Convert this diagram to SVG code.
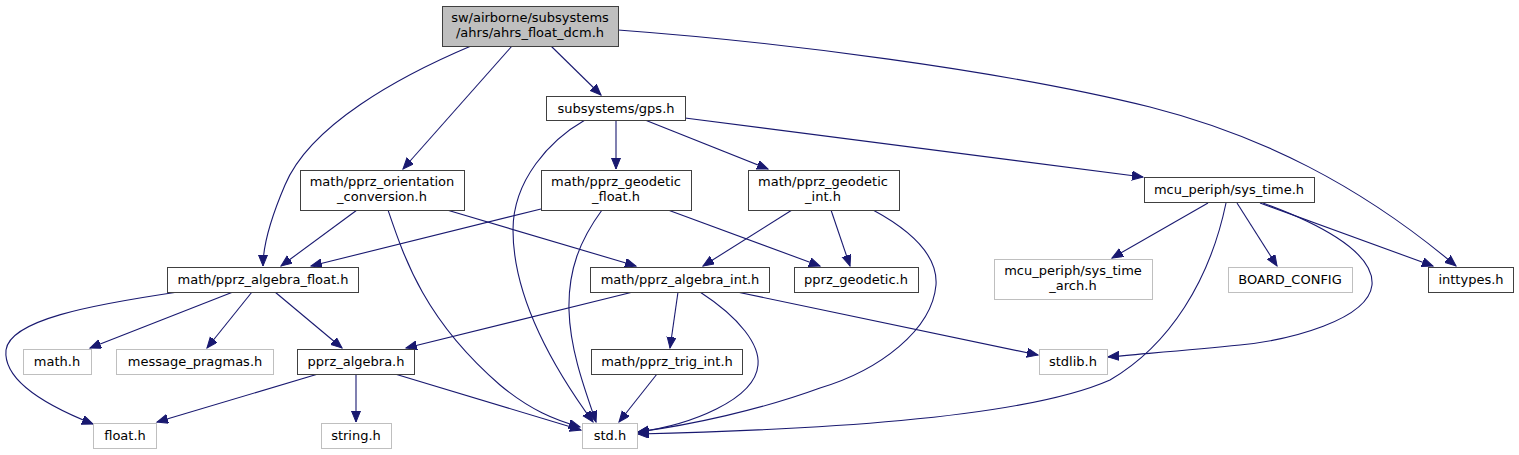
<svg xmlns="http://www.w3.org/2000/svg" width="1519" height="455" viewBox="0 0 1519 455">
<style>
.n rect{fill:#fff;stroke:#404040;stroke-width:1}
.g rect{fill:#fff;stroke:#bfbfbf;stroke-width:1}
.root rect{fill:#bfbfbf;stroke:#404040}
text{font-family:"DejaVu Sans",sans-serif;font-size:13px;text-anchor:middle;fill:#000}
#edges path{fill:none;stroke:#191970;stroke-width:1.1;marker-end:url(#a)}
</style>
<defs>
<marker id="a" markerUnits="userSpaceOnUse" markerWidth="13" markerHeight="10" refX="11" refY="4.5" orient="auto">
<path d="M0,0 L11,4.5 L0,9 z" fill="#191970" stroke="#191970" stroke-width="1"/>
</marker>
</defs>
<rect width="1519" height="455" fill="#fff"/>
<g id="edges">
<path d="M551,46 L601,95"/>
<path d="M471,46 C400,76 310,125 285,185 C270,220 263,245 263,266"/>
<path d="M512,46 L403,169"/>
<path d="M618,30 C780,42 1000,70 1150,107 C1260,135 1360,185 1456,266"/>
<path d="M585,120 C550,140 513,180 513,230 C513,300 555,370 593,422"/>
<path d="M616,120 L616,169"/>
<path d="M645,120 L768,169"/>
<path d="M685,118 L1143,177"/>
<path d="M357,210 L281,266"/>
<path d="M447,210 L636,266"/>
<path d="M388,210 C405,260 425,320 500,385 C530,410 555,420 580,427"/>
<path d="M541,209 L311,266"/>
<path d="M668,210 L820,266"/>
<path d="M602,210 C580,240 568,270 569,310 C570,350 585,390 596,422"/>
<path d="M792,210 L703,266"/>
<path d="M831,210 L850,266"/>
<path d="M873,210 C910,230 938,255 936,285 C932,330 880,370 820,388 C760,410 690,425 638,432"/>
<path d="M178,292 C90,305 10,320 6,350 C3,380 45,405 93,424"/>
<path d="M233,292 L90,348"/>
<path d="M252,292 L207,348"/>
<path d="M275,292 L342,348"/>
<path d="M633,292 L406,348"/>
<path d="M678,292 L670,348"/>
<path d="M700,292 C740,318 760,345 758,365 C755,400 690,425 638,432"/>
<path d="M737,292 L1038,355"/>
<path d="M318,374 L157,422"/>
<path d="M356,374 L356,422"/>
<path d="M395,374 L581,430"/>
<path d="M657,374 L619,422"/>
<path d="M1208,203 L1112,258"/>
<path d="M1237,203 L1277,266"/>
<path d="M1260,203 L1433,266"/>
<path d="M1263,203 C1310,220 1375,250 1372,285 C1368,320 1290,340 1240,345 C1190,350 1140,354 1108,357"/>
<path d="M1226,203 C1210,280 1170,345 1110,380 C1020,420 800,430 638,434"/>
</g>
<g id="ahrs_float_dcm" class="n root"><rect x="442.5" y="6.5" width="176" height="40"/><text x="530" y="22">sw/airborne/subsystems</text><text x="530" y="37">/ahrs/ahrs_float_dcm.h</text></g>
<g id="gps" class="n"><rect x="546.5" y="96.5" width="139" height="24"/><text x="616" y="113">subsystems/gps.h</text></g>
<g id="orientation_conversion" class="n"><rect x="300.5" y="170.5" width="164" height="40"/><text x="382" y="186">math/pprz_orientation</text><text x="382" y="201">_conversion.h</text></g>
<g id="geodetic_float" class="n"><rect x="541.5" y="170.5" width="150" height="40"/><text x="616" y="186">math/pprz_geodetic</text><text x="616" y="201">_float.h</text></g>
<g id="geodetic_int" class="n"><rect x="748.5" y="170.5" width="151" height="40"/><text x="823" y="186">math/pprz_geodetic</text><text x="823" y="201">_int.h</text></g>
<g id="sys_time" class="n"><rect x="1144.5" y="177.5" width="170" height="25"/><text x="1229" y="194">mcu_periph/sys_time.h</text></g>
<g id="algebra_float" class="n"><rect x="167.5" y="267.5" width="191" height="25"/><text x="263" y="284">math/pprz_algebra_float.h</text></g>
<g id="algebra_int" class="n"><rect x="590.5" y="267.5" width="179" height="25"/><text x="680" y="284">math/pprz_algebra_int.h</text></g>
<g id="pprz_geodetic" class="n"><rect x="794.5" y="267.5" width="124" height="25"/><text x="856" y="284">pprz_geodetic.h</text></g>
<g id="sys_time_arch" class="g"><rect x="994.5" y="259.5" width="158" height="40"/><text x="1073" y="275">mcu_periph/sys_time</text><text x="1073" y="290">_arch.h</text></g>
<g id="board_config" class="g"><rect x="1228.5" y="267.5" width="124" height="25"/><text x="1290" y="284">BOARD_CONFIG</text></g>
<g id="inttypes" class="n"><rect x="1428.5" y="267.5" width="85" height="25"/><text x="1471" y="284">inttypes.h</text></g>
<g id="math" class="g"><rect x="23.5" y="349.5" width="68" height="25"/><text x="57" y="366">math.h</text></g>
<g id="message_pragmas" class="g"><rect x="116.5" y="349.5" width="157" height="25"/><text x="195" y="366">message_pragmas.h</text></g>
<g id="pprz_algebra" class="n"><rect x="297.5" y="349.5" width="117" height="25"/><text x="356" y="366">pprz_algebra.h</text></g>
<g id="trig_int" class="n"><rect x="591.5" y="349.5" width="151" height="25"/><text x="667" y="366">math/pprz_trig_int.h</text></g>
<g id="stdlib" class="g"><rect x="1039.5" y="349.5" width="68" height="25"/><text x="1073" y="366">stdlib.h</text></g>
<g id="float" class="g"><rect x="93.5" y="423.5" width="63" height="25"/><text x="125" y="440">float.h</text></g>
<g id="string" class="g"><rect x="321.5" y="423.5" width="70" height="25"/><text x="356" y="440">string.h</text></g>
<g id="std" class="g"><rect x="582.5" y="423.5" width="55" height="25"/><text x="610" y="440">std.h</text></g>
</svg>
